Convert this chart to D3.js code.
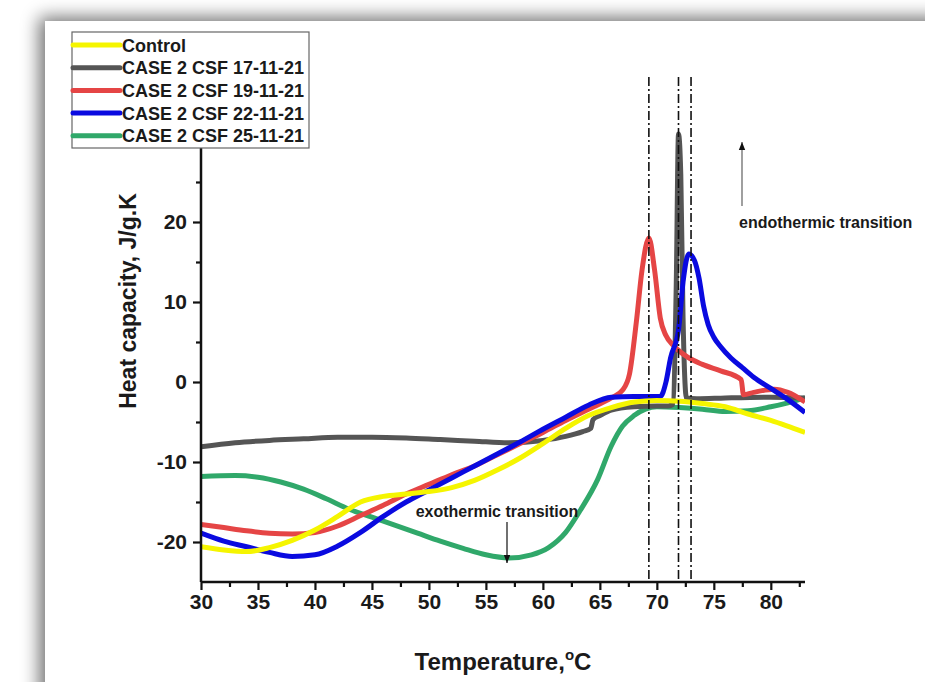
<!DOCTYPE html>
<html>
<head>
<meta charset="utf-8">
<script src="https://cdn.jsdelivr.net/npm/d3@7"></script>
<style>
  body { margin: 0; background: #fff; }
  text { font-family: "Liberation Sans", Arial, sans-serif; font-weight: bold; fill: #1a1a1a; }
</style>
</head>
<body>
<svg id="chart" width="925" height="682"></svg>
<script>
// series names and colours
const seriesNames = ["Control", "CASE 2 CSF 17-11-21", "CASE 2 CSF 19-11-21", "CASE 2 CSF 22-11-21", "CASE 2 CSF 25-11-21"];
const seriesColors = ["#f5f500", "#555555", "#e54545", "#0a0ae0", "#30a86a"];

// temperature (C) / heat capacity (J/g.K)
const controlT = [30, 32, 34, 36, 38, 40, 42, 44, 46, 48, 50, 52, 54, 56, 58, 60, 62, 64, 66, 68, 70, 72, 74, 76, 78, 80, 82, 83];
const controlCp = [-20.6, -21, -21.2, -20.7, -19.8, -18.5, -16.8, -15, -14.3, -14, -13.7, -13.2, -12.3, -11, -9.5, -7.7, -5.8, -4.2, -3.2, -2.5, -2.3, -2.4, -2.7, -3.1, -4, -4.8, -5.8, -6.3];

const s17T = [30, 33, 36, 39, 42, 45, 48, 51, 54, 57, 60, 62, 63.5, 64.2, 64.4, 65, 66, 68, 70, 71, 71.4, 71.7, 71.9, 72.1, 72.3, 72.6, 73.5, 76, 80, 83];
const s17Cp = [-8.1, -7.6, -7.3, -7.1, -6.9, -6.9, -7, -7.2, -7.4, -7.6, -7.3, -6.8, -6.2, -5.8, -4.7, -4.2, -3.5, -3.1, -3, -3, -2.8, 12, 31, 26, 8, -2, -2.1, -2, -1.9, -2];

const s19T = [30, 32, 34, 36, 38, 40, 42, 44, 46, 48, 50, 52, 54, 56, 58, 60, 62, 64, 66, 67, 67.6, 68.2, 68.7, 69.3, 69.8, 70.3, 70.8, 71.5, 72.7, 74, 75.6, 77.4, 77.6, 78.5, 80.3, 81.5, 83];
const s19Cp = [-17.8, -18.2, -18.6, -18.9, -19, -18.8, -18, -16.7, -15.4, -14, -12.8, -11.6, -10.5, -9.1, -7.7, -6.3, -4.8, -3.4, -2, -1, 1, 7.5, 14, 18, 14, 8, 5.8, 4.5, 3.1, 2.2, 1.4, 0.3, -1.6, -1.3, -0.9, -1.3, -2.5];

const s22T = [30, 32, 34, 36, 38, 40, 42, 44, 46, 48, 50, 52, 54, 56, 58, 60, 62, 64, 66, 68, 70.3, 70.8, 71.2, 71.9, 72.3, 72.8, 73.3, 73.7, 74.1, 74.5, 75, 75.6, 76.5, 77.5, 78.5, 80, 81.5, 83];
const s22Cp = [-18.9, -19.9, -20.6, -21.3, -21.8, -21.6, -20.5, -18.8, -16.8, -15, -13.5, -12, -10.5, -9, -7.5, -5.9, -4.4, -2.9, -1.9, -1.8, -1.8, 0, 3, 6.5, 12.5, 16, 15.2, 13, 9.5, 7.2, 5.6, 4.4, 3, 1.8, 0.6, -0.8, -2.2, -3.8];

const s25T = [30, 33, 35, 37, 39, 41, 43, 45, 47, 49, 51, 53, 55, 57, 59, 60.5, 62, 63.3, 64.8, 66, 67, 68, 69, 70, 72, 74, 76, 78, 80, 81.5, 83];
const s25Cp = [-11.8, -11.7, -11.9, -12.5, -13.4, -14.6, -15.9, -16.9, -17.9, -18.9, -19.9, -20.8, -21.6, -22, -21.6, -20.7, -18.8, -16, -12.2, -8, -5.5, -4.2, -3.4, -3.1, -3.2, -3.4, -3.7, -3.6, -3.1, -2.6, -2];

// peak markers (dash-dot verticals)
const peakT = [69.3, 71.9, 73.0];

// axis ticks
const xTicks = [30, 35, 40, 45, 50, 55, 60, 65, 70, 75, 80];
const xMinor = [32.5, 37.5, 42.5, 47.5, 52.5, 57.5, 62.5, 67.5, 72.5, 77.5, 82.5];
const yTicks = [-20, -10, 0, 10, 20];
const yMinor = [-15, -5, 5, 15, 25];

const seriesT = [controlT, s17T, s19T, s22T, s25T];
const seriesCp = [controlCp, s17Cp, s19Cp, s22Cp, s25Cp];

const svg = d3.select("#chart");
const margin = { left: 201, right: 805, top: 102, bottom: 582 };

const x = d3.scaleLinear().domain([30, 83]).range([margin.left, margin.right]);
const y = d3.scaleLinear().domain([-25, 35]).range([margin.bottom, margin.top]);

// page with shadow on top/left
const defs = svg.append("defs");
const f = defs.append("filter").attr("id", "shadow").attr("x", "-10%").attr("y", "-10%").attr("width", "120%").attr("height", "120%");
f.append("feGaussianBlur").attr("in", "SourceAlpha").attr("stdDeviation", 9);
f.append("feOffset").attr("dx", -6).attr("dy", -4).attr("result", "b");
f.append("feComponentTransfer").append("feFuncA").attr("type", "linear").attr("slope", 0.55);
const fm = f.append("feMerge");
fm.append("feMergeNode");
fm.append("feMergeNode").attr("in", "SourceGraphic");
svg.append("rect").attr("x", 45).attr("y", 21).attr("width", 920).attr("height", 700)
  .attr("fill", "#fff").attr("filter", "url(#shadow)");

defs.append("clipPath").attr("id", "plot").append("rect")
  .attr("x", margin.left).attr("y", 60).attr("width", margin.right - margin.left).attr("height", margin.bottom - 60);

defs.append("marker").attr("id", "head").attr("viewBox", "0 0 10 10")
  .attr("refX", 10).attr("refY", 5).attr("markerWidth", 8).attr("markerHeight", 8)
  .attr("markerUnits", "userSpaceOnUse").attr("orient", "auto")
  .append("path").attr("d", "M0 1 L10 5 L0 9 z").attr("fill", "#111");

// curves
const line = d3.line().x(d => x(d[0])).y(d => y(d[1])).curve(d3.curveMonotoneX);
const drawOrder = [4, 1, 2, 3, 0];
const curves = svg.append("g").attr("clip-path", "url(#plot)");
drawOrder.forEach(i => {
  const pts = seriesT[i].map((t, k) => [t, seriesCp[i][k]]);
  curves.append("path").attr("d", line(pts)).attr("fill", "none")
    .attr("stroke", seriesColors[i]).attr("stroke-width", 5).attr("stroke-linejoin", "round");
});

// dash-dot lines
peakT.forEach(t => {
  svg.append("line").attr("x1", x(t)).attr("x2", x(t)).attr("y1", 77).attr("y2", margin.bottom)
    .attr("stroke", "#111").attr("stroke-width", 1.6).attr("stroke-dasharray", "9,3,2,3");
});

// axes
const fmt = d => String(d);
const xAxis = svg.append("g").attr("transform", `translate(0,${margin.bottom})`)
  .call(d3.axisBottom(x).tickValues(xTicks).tickSize(8).tickPadding(4).tickFormat(fmt));
svg.append("g").attr("transform", `translate(0,${margin.bottom})`)
  .call(d3.axisBottom(x).tickValues(xMinor).tickSize(5).tickFormat(""))
  .call(g => g.select(".domain").remove());
const yAxis = svg.append("g").attr("transform", `translate(${margin.left},0)`)
  .call(d3.axisLeft(y).tickValues(yTicks).tickSize(8).tickPadding(6).tickFormat(fmt));
svg.append("g").attr("transform", `translate(${margin.left},0)`)
  .call(d3.axisLeft(y).tickValues(yMinor).tickSize(5).tickFormat(""))
  .call(g => g.select(".domain").remove());

svg.selectAll(".domain").attr("stroke", "#111").attr("stroke-width", 2.5);
svg.selectAll(".tick line").attr("stroke", "#111").attr("stroke-width", 2.2);
svg.selectAll(".tick text").style("font-size", "21px").style("font-weight", "bold")
  .style("font-family", "'Liberation Sans', Arial, sans-serif").attr("fill", "#1a1a1a");
xAxis.selectAll(".domain").attr("d", `M${margin.left},0H${margin.right}`);
yAxis.selectAll(".domain").attr("d", `M0,${margin.bottom}V${margin.top}`);

// axis titles
svg.append("text").attr("transform", "translate(136,301) rotate(-90)")
  .attr("text-anchor", "middle").style("font-size", "23px").text("Heat capacity, J/g.K");
const xt = svg.append("text").attr("x", 503).attr("y", 670).attr("text-anchor", "middle").style("font-size", "24px");
xt.append("tspan").text("Temperature,");
xt.append("tspan").attr("dy", -10).style("font-size", "15px").text("o");
xt.append("tspan").attr("dy", 10).text("C");

// annotations
svg.append("text").attr("x", 497).attr("y", 517).attr("text-anchor", "middle").style("font-size", "16px").text("exothermic transition");
svg.append("line").attr("x1", 507).attr("x2", 507).attr("y1", 522).attr("y2", 563)
  .attr("stroke", "#111").attr("stroke-width", 1.2).attr("marker-end", "url(#head)");
svg.append("text").attr("x", 739).attr("y", 228).style("font-size", "16px").text("endothermic transition");
svg.append("line").attr("x1", 742).attr("x2", 742).attr("y1", 206).attr("y2", 142)
  .attr("stroke", "#888").attr("stroke-width", 1.6).attr("marker-end", "url(#head)");

// legend
const legend = svg.append("g");
legend.append("rect").attr("x", 72).attr("y", 32).attr("width", 237).attr("height", 116)
  .attr("fill", "#fff").attr("stroke", "#666").attr("stroke-width", 1.2);
seriesNames.forEach((name, i) => {
  const ly = 45 + i * 22.7;
  legend.append("line").attr("x1", 73).attr("x2", 120).attr("y1", ly).attr("y2", ly)
    .attr("stroke", seriesColors[i]).attr("stroke-width", 5).attr("stroke-linecap", "round");
  legend.append("text").attr("x", 122).attr("y", ly + 6.5).style("font-size", "18px").text(name);
});
</script>
</body>
</html>
